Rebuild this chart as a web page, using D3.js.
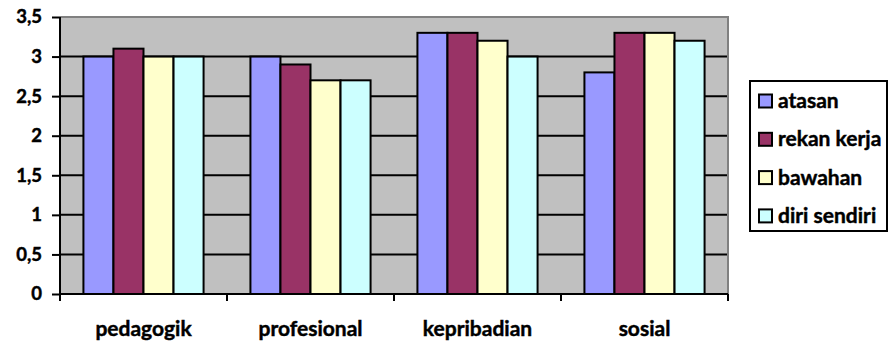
<!DOCTYPE html>
<html><head><meta charset="utf-8">
<script src="https://cdn.jsdelivr.net/npm/d3@7"></script>
<style>body{margin:0;background:#fff}svg{display:block}text{font-family:Lato,"Open Sans",sans-serif;font-weight:bold;stroke:#000;stroke-width:0.45px}</style>
</head><body><svg id="c" width="889" height="347"></svg>
<script>
const categories = ["pedagogik","profesional","kepribadian","sosial"];
const seriesNames = ["atasan","rekan kerja","bawahan","diri sendiri"];
const atasan = [3.0, 3.0, 3.3, 2.8];
const rekanKerja = [3.1, 2.9, 3.3, 3.3];
const bawahan = [3.0, 2.7, 3.2, 3.3];
const diriSendiri = [3.0, 2.7, 3.0, 3.2];
const yTicks = [0,0.5,1,1.5,2,2.5,3,3.5];
const colors = ["#9999FF","#993366","#FFFFCC","#CCFFFF"];
const series = [atasan, rekanKerja, bawahan, diriSendiri];

const svg = d3.select("#c");
const L=60, R=728, T=17, B=294;
const x = d3.scaleBand().domain(categories).range([L,R]).paddingInner(0).paddingOuter(0);
const y = d3.scaleLinear().domain([0,3.5]).range([B,T]);
const inner = d3.scaleBand().domain(d3.range(4)).range([0,x.bandwidth()]).paddingInner(0).paddingOuter(0.78);

svg.append("rect").attr("x",L).attr("y",T).attr("width",R-L).attr("height",B-T).attr("fill","#C0C0C0");
svg.append("g").selectAll("line").data(yTicks.filter(d=>d>0&&d<3.5)).join("line")
  .attr("x1",L).attr("x2",R).attr("y1",d=>y(d)).attr("y2",d=>y(d)).attr("stroke","#000").attr("stroke-width",2);
svg.append("path").attr("d",`M${L},${T}H${R}V${B}`).attr("fill","none").attr("stroke","#808080").attr("stroke-width",2);

categories.forEach((c,ci)=>{
  series.forEach((s,si)=>{
    svg.append("rect").attr("x",x(c)+inner(si)).attr("y",y(s[ci])).attr("width",inner.bandwidth())
      .attr("height",y(0)-y(s[ci])).attr("fill",colors[si]).attr("stroke","#000").attr("stroke-width",2);
  });
});

const ya = svg.append("g").attr("transform",`translate(${L},0)`)
  .call(d3.axisLeft(y).tickValues(yTicks).tickSize(8).tickPadding(10).tickFormat(d=>String(d).replace(".",",")));
ya.select(".domain").attr("stroke","#000").attr("stroke-width",2).attr("d",`M0,${T}V${B}`);
ya.selectAll(".tick line").attr("stroke","#000").attr("stroke-width",2);
ya.selectAll("text").attr("font-size",18.5).attr("fill","#000").attr("font-family","Lato,sans-serif").attr("font-weight","bold");

const xa = svg.append("g").attr("transform",`translate(0,${B})`).call(d3.axisBottom(x).tickSize(0).tickPadding(0));
xa.select(".domain").attr("stroke","#000").attr("stroke-width",2).attr("d",`M${L},0H${R}`);
xa.selectAll(".tick text").attr("y",0).attr("dy",null).attr("dominant-baseline","auto").attr("transform","translate(0,42)")
  .attr("font-size",21).attr("fill","#000").attr("font-family","Lato,sans-serif").attr("font-weight","bold");
const bTicks = categories.map(c=>x(c)).concat([R]);
svg.append("g").selectAll("line").data(bTicks).join("line")
  .attr("x1",d=>d).attr("x2",d=>d).attr("y1",B).attr("y2",B+7).attr("stroke","#000").attr("stroke-width",2);

const lg = svg.append("g");
lg.append("rect").attr("x",750).attr("y",81).attr("width",137).attr("height",150).attr("fill","#fff").attr("stroke","#000").attr("stroke-width",2);
seriesNames.forEach((n,i)=>{
  const cy = 101 + i*38.3;
  lg.append("rect").attr("x",759).attr("y",cy-6.5).attr("width",13).attr("height",13).attr("fill",colors[i]).attr("stroke","#000").attr("stroke-width",2);
  lg.append("text").attr("x",778).attr("y",cy+7).attr("font-size",21).text(n);
});
</script></body></html>
